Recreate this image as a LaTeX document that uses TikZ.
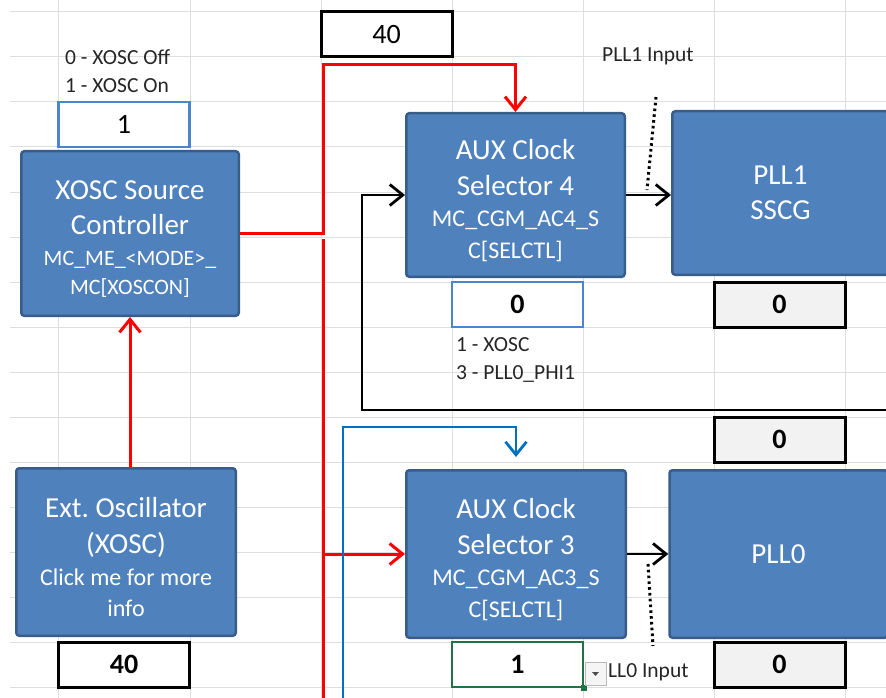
\documentclass[tikz,border=0pt]{standalone}
\usepackage{fontspec}
\setmainfont{Carlito}
\usetikzlibrary{arrows.meta,calc}

\definecolor{blkfill}{RGB}{79,129,189}
\definecolor{blkdraw}{RGB}{56,93,138}
\definecolor{gridgray}{RGB}{222,222,222}
\definecolor{wirered}{RGB}{255,0,0}
\definecolor{wireblue}{RGB}{0,112,192}
\definecolor{cellblue}{RGB}{74,134,208}
\definecolor{selgreen}{RGB}{33,115,70}
\definecolor{cellgray}{RGB}{242,242,242}
\definecolor{notetext}{RGB}{38,38,38}

\newcommand\blkTitle{\fontsize{29}{35}\selectfont}
\newcommand\blkSub{\fontsize{22}{28}\selectfont}
\newcommand\blkSubB{\fontsize{24}{30}\selectfont}
\newcommand\cellFont{\fontsize{28}{32}\selectfont}
\newcommand\noteFont{\fontsize{21.5}{28}\selectfont}
% raises the first line of a block so the text block sits lower
\newcommand\topstrut[1]{\rule{0pt}{#1}}

\begin{document}
\begin{tikzpicture}[x=1pt,y=-1pt,
  gridrule/.style={draw=gridgray,line width=1pt},
  block/.style={draw=blkdraw,fill=blkfill,line width=2.5pt,rounded corners=3pt,
    text=white,align=center,inner sep=0pt,font=\blkTitle},
  cell/.style={minimum width=131pt,minimum height=45pt,inner sep=0pt,
    font=\cellFont,text=black},
  blackcell/.style={cell,draw=black,line width=3pt,fill=white},
  graycell/.style={cell,draw=black,line width=3pt,fill=cellgray,font=\cellFont\bfseries},
  bluecell/.style={cell,draw=cellblue,line width=2.5pt,fill=white},
  note/.style={font=\noteFont,text=notetext,inner sep=0pt,align=left},
  barbend/.style={-{Straight Barb[length=13pt,width=21pt]}},
  redwire/.style={draw=wirered,line width=3pt},
  bluewire/.style={draw=wireblue,line width=2.8pt},
  blackwire/.style={draw=black,line width=2.8pt},
  dotwire/.style={draw=black,line width=3pt,dash pattern=on 2.6pt off 3.2pt}]

\useasboundingbox[fill=white] (0,0) rectangle (886,698);

% spreadsheet grid
\foreach \gx in {58,190,321,452,583,714,845}
  \draw[gridrule] (\gx,0) -- (\gx,698);
\foreach \gy in {12,57,...,687}
  \draw[gridrule] (10,\gy) -- (886,\gy);

% function blocks
\node[block,minimum width=217.5pt,minimum height=164.5pt] (xosc) at (130,233.5)
  {\topstrut{29pt}XOSC Source\\Controller\\[-4pt]\blkSub MC\_ME\_<MODE>\_\\[-6pt]\blkSub MC[XOSCON]};
\node[block,minimum width=219.5pt,minimum height=167.5pt] (ext) at (126,552)
  {\topstrut{31pt}Ext.\ Oscillator\\[1pt](XOSC)\\[-3pt]\blkSubB Click me for more\\[-4pt]\blkSubB info};
\node[block,minimum width=218.5pt,minimum height=163.5pt] (aux4) at (515.5,195)
  {\topstrut{31pt}AUX Clock\\[1pt]Selector 4\\[-4pt]\blkSubB MC\_CGM\_AC4\_S\\[-3pt]\blkSubB C[SELCTL]};
\node[block,minimum width=216.5pt,minimum height=163.5pt] (pll1) at (780.5,193)
  {PLL1\\SSCG};
\node[block,minimum width=219.5pt,minimum height=167.5pt] (aux3) at (516,554)
  {\topstrut{31pt}AUX Clock\\[1pt]Selector 3\\[-4pt]\blkSubB MC\_CGM\_AC3\_S\\[-3pt]\blkSubB C[SELCTL]};
\node[block,minimum width=218pt,minimum height=167.5pt] (pll0) at (778.5,554)
  {PLL0};

% value cells
\node[blackcell] (topval) at (386.5,34.5) {40};
\node[bluecell] (xoscon) at (124,124.5) {1};
\node[bluecell,font=\cellFont\bfseries] (aux4sel) at (517.5,304.5) {0};
\node[graycell] (pll1val) at (779.5,304.5) {0};
\node[graycell] (midval) at (779.5,439.5) {0};
\node[blackcell,font=\cellFont\bfseries] (extval) at (124,664.5) {40};
\node[cell,draw=selgreen,line width=2pt,fill=white,font=\cellFont\bfseries] (aux3sel) at (517.5,664.5) {1};
\node[graycell] (pll0val) at (779.5,664.5) {0};

% selection handle and list button
\fill[selgreen] ($(aux3sel.south east)+(-3,-3)$) rectangle ($(aux3sel.south east)+(3,3)$);
\node[draw=gray!55,fill=gray!8,minimum width=21pt,minimum height=23pt,inner sep=0pt] (listbtn) at (595.5,673.5) {};
\fill[black!70] ($(listbtn.center)+(-3.5,-1.5)$) -- ($(listbtn.center)+(3.5,-1.5)$) -- ($(listbtn.center)+(0,2.5)$) -- cycle;

% notes
\node[note,anchor=west] (xnote) at (65,71) {0 - XOSC Off\\1 - XOSC On};
\node[note,anchor=west] (p1note) at (602,56) {PLL1 Input};
\node[note,anchor=west] (selnote) at (456,360) {1 - XOSC\\3 - PLL0\_PHI1};
\node[note,anchor=west] (p0note) at (608,672) {LL0 Input};

% red clock paths
\coordinate (rtop) at (323,65);
\draw[redwire,barbend] (xosc.east) -| (rtop) -| (aux4.north);
\draw[redwire,barbend] (xosc.south |- ext.north) -- (xosc.south);
\coordinate (rlow) at (323,239);
\coordinate (rend) at (323,698);
\draw[redwire] (rlow) -- (rend);
\draw[redwire,barbend] (rlow |- aux3.west) -- (aux3.west);

% blue clock path
\coordinate (bstart) at (343,698);
\coordinate (bturn) at (343,427);
\draw[bluewire,barbend] (bstart) -- (bturn) -| ([yshift=12pt]aux3.north);

% feedback from PLL0 into selector 4
\coordinate (fbstart) at (886,410);
\coordinate (fbturn) at (362,410);
\draw[blackwire,barbend] (fbstart) -- (fbturn) |- (aux4.west);

% selector outputs into the PLLs
\draw[blackwire,barbend] (aux4.east) -- (aux4.east -| pll1.west);
\draw[blackwire,barbend] (aux3.east) -- (aux3.east -| pll0.west);

% input markers
\coordinate (p1a) at (656,97);
\coordinate (p1b) at (647,190);
\draw[dotwire] (p1a) -- (p1b);
\coordinate (p0a) at (648,564);
\coordinate (p0b) at (653,646);
\draw[dotwire] (p0a) -- (p0b);
\end{tikzpicture}
\end{document}
